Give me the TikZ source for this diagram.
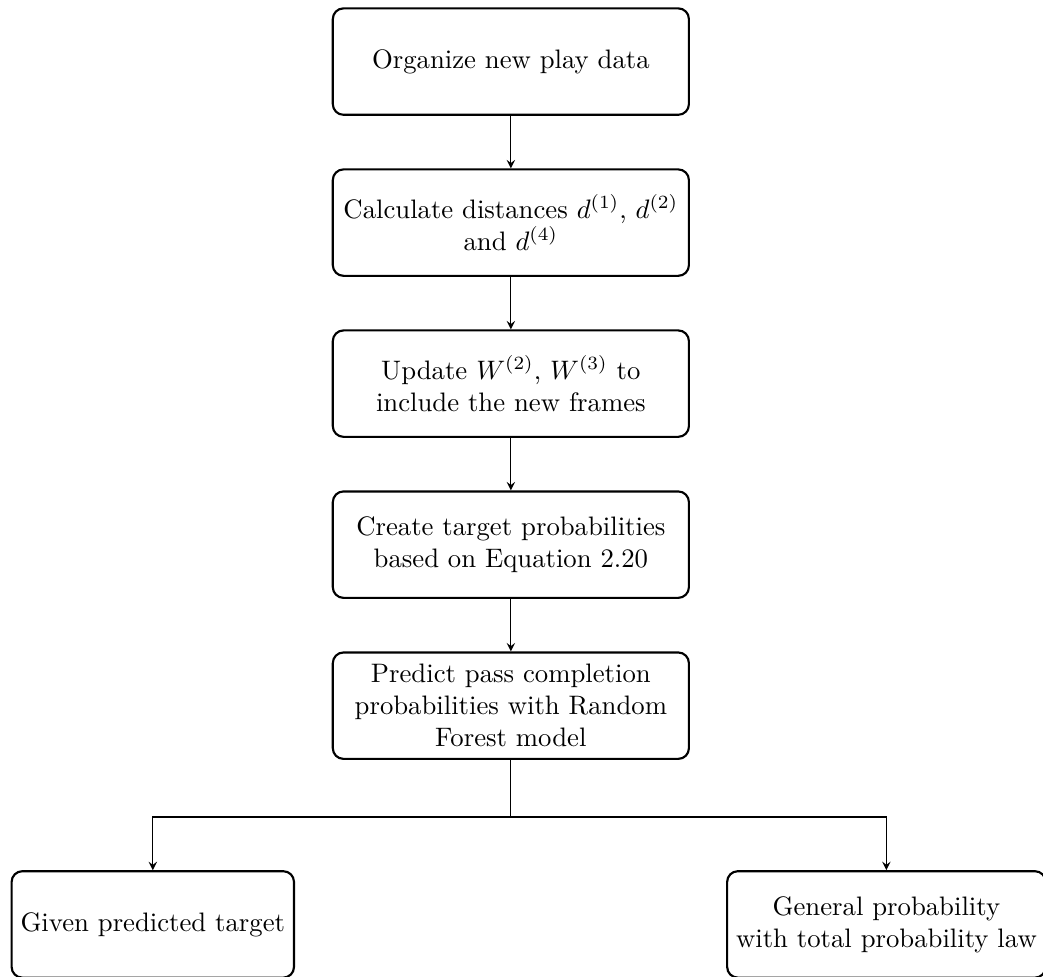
\documentclass[tikz,border=0pt]{standalone}
\usetikzlibrary{positioning,arrows}
\begin{document}
\begin{tikzpicture}[
  stepbox/.style={draw, thick, rounded corners, text width=4.45cm, align=flush center, minimum height=1.4cm},
  endbox/.style={draw, thick, rounded corners, align=center, minimum height=1.4cm},
  arr/.style={->, >=stealth}
]
  \useasboundingbox (0,0) rectangle (13.72,-12.84);
  % main chain
  \node[stepbox] (organize) at (6.72,-0.81) {Organize new play data};
  \node[stepbox, below=0.69cm of organize] (distances) {Calculate distances $d^{(1)}$, $d^{(2)}$ and $d^{(4)}$};
  \node[stepbox, below=0.69cm of distances] (update) {Update $W^{(2)}$, $W^{(3)}$ to include the new frames};
  \node[stepbox, below=0.69cm of update] (targets) {Create target probabilities based on Equation 2.20};
  \node[stepbox, below=0.69cm of targets] (predict) {Predict pass completion probabilities with Random Forest model};
  \coordinate[below=0.75cm of predict] (split);
  % the two outcomes
  \node[endbox] (given) at (2.01,-12.16) {Given predicted target};
  \node[endbox] (general) at (11.66,-12.16) {General probability\\with total probability law};
  \draw[arr] (organize) -- (distances);
  \draw[arr] (distances) -- (update);
  \draw[arr] (update) -- (targets);
  \draw[arr] (targets) -- (predict);
  \draw (predict) -- (split);
  \draw[arr] (split) -| (given);
  \draw[arr] (split) -| (general);
\end{tikzpicture}
\end{document}
